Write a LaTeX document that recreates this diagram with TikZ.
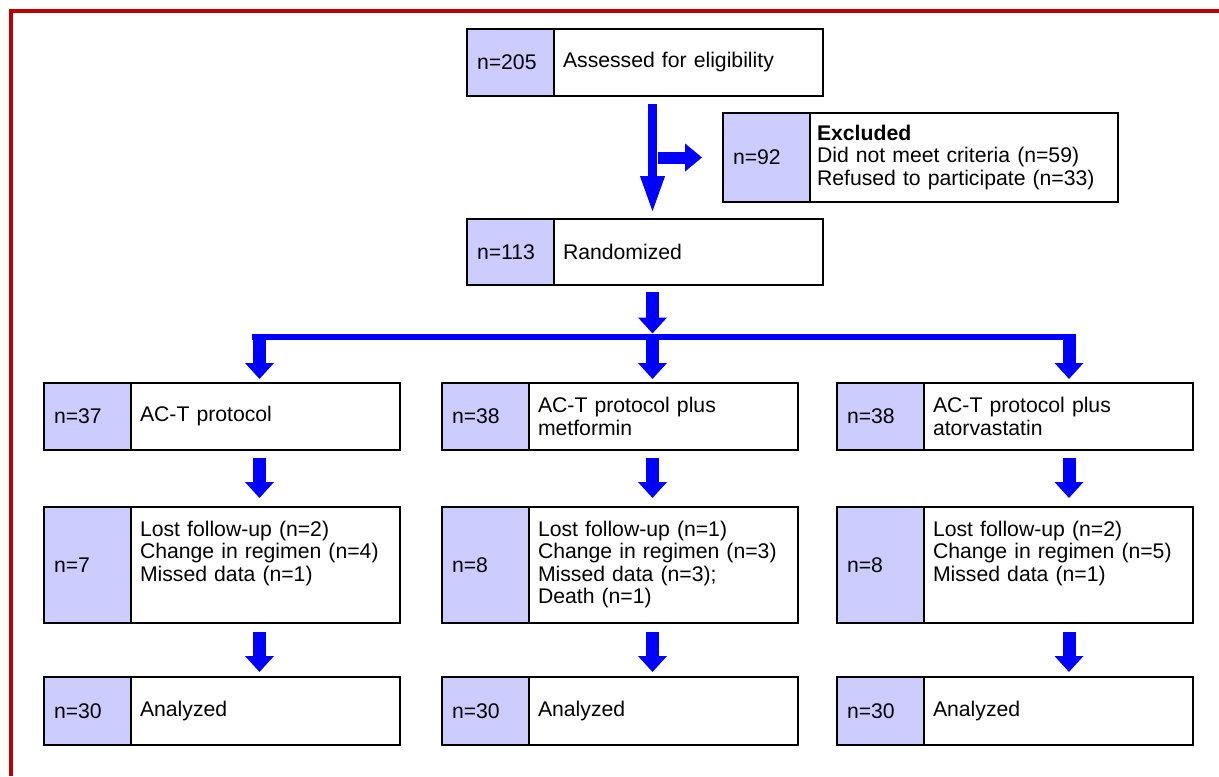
\documentclass[tikz,border=0pt]{standalone}
\usepackage{fontspec}
\setmainfont{Liberation Sans}
\usetikzlibrary{positioning,arrows.meta}

\definecolor{countfill}{RGB}{204,204,255}
\definecolor{framered}{RGB}{192,0,0}

\begin{document}
\begin{tikzpicture}[x=0.5pt, y=-0.5pt,
    font=\fontsize{10.6}{11.25}\selectfont,
    countbox/.style={draw, line width=1pt, fill=countfill, outer sep=0pt,
      inner xsep=5pt, text width=33.5pt, align=left, minimum height=#1,
      anchor=north west},
    textbox/.style={draw, line width=1pt, fill=white, outer sep=0pt,
      inner xsep=4.5pt, text width=125.5pt, align=left, minimum height=#1},
    downarrow/.style={draw=blue, line width=6.5pt, -{Triangle[length=8pt,width=14pt]}},
    mainarrow/.style={draw=blue, line width=4.5pt, -{Triangle[length=19pt,width=11pt]}},
    sidearrow/.style={draw=blue, line width=6pt, -{Triangle[length=8.5pt,width=13.5pt]}}
  ]
    \useasboundingbox (0,0) rectangle (1219,776);

    % Frame
    \draw[framered, line width=2pt] (10.5,776) -- (10.5,10.5) -- (1219,10.5);

    % Enrollment
    \node[countbox=33.5pt] (assN) at (467,29) {n=205};
    \node[textbox=33.5pt, right=0pt of assN] (assT) {Assessed for eligibility};

    \node[countbox=44.5pt] (excN) at (723,113) {n=92};
    \node[textbox=44.5pt, right=0pt of excN, inner xsep=3.5pt, text width=147pt] (excT)
      {\textbf{Excluded}\\Did not meet criteria (n=59)\\Refused to participate (n=33)};

    \node[countbox=33pt] (randN) at (467,219) {n=113};
    \node[textbox=33pt, right=0pt of randN] (randT) {Randomized};

    % Allocation
    \node[countbox=33.5pt] (armN1) at (44,383) {n=37};
    \node[textbox=33.5pt, right=0pt of armN1] (armT1) {AC-T protocol};

    \node[countbox=33.5pt] (armN2) at (442,383) {n=38};
    \node[textbox=33.5pt, right=0pt of armN2] (armT2) {AC-T protocol plus\\metformin};

    \node[countbox=33.5pt] (armN3) at (837,383) {n=38};
    \node[textbox=33.5pt, right=0pt of armN3] (armT3) {AC-T protocol plus\\atorvastatin};

    % Follow-up
    \node[countbox=58pt] (lostN1) at (44,507) {n=7};
    \node[textbox=58pt, right=0pt of lostN1] (lostT1)
      {\parbox[c][44pt][t]{125.5pt}{Lost follow-up (n=2)\\Change in regimen (n=4)\\Missed data (n=1)}};

    \node[countbox=58pt] (lostN2) at (442,507) {n=8};
    \node[textbox=58pt, right=0pt of lostN2] (lostT2)
      {\parbox[c][44pt][t]{125.5pt}{Lost follow-up (n=1)\\Change in regimen (n=3)\\Missed data (n=3);\\Death (n=1)}};

    \node[countbox=58pt] (lostN3) at (837,507) {n=8};
    \node[textbox=58pt, right=0pt of lostN3] (lostT3)
      {\parbox[c][44pt][t]{125.5pt}{Lost follow-up (n=2)\\Change in regimen (n=5)\\Missed data (n=1)}};

    % Analysis
    \node[countbox=34pt] (anaN1) at (44,677) {n=30};
    \node[textbox=34pt, right=0pt of anaN1] (anaT1) {Analyzed};

    \node[countbox=34pt] (anaN2) at (442,677) {n=30};
    \node[textbox=34pt, right=0pt of anaN2] (anaT2) {Analyzed};

    \node[countbox=34pt] (anaN3) at (837,677) {n=30};
    \node[textbox=34pt, right=0pt of anaN3] (anaT3) {Analyzed};

    % Arrow columns and split bar
    \coordinate (colL) at (259.5,0);
    \coordinate (colM) at (652.5,0);
    \coordinate (colR) at (1069,0);
    \coordinate (barL) at (252,336.5);
    \coordinate (barR) at (1076,336.5);

    \draw[mainarrow] ([yshift=-4pt]assN.south -| colM) -- ([yshift=2.5pt]randN.north -| colM);
    \draw[sidearrow] ([xshift=2.5pt]excN.west -| colM) -- ([xshift=-10.5pt]excN.west);

    \draw[downarrow] ([yshift=-3.5pt]randN.south -| colM) -- ([yshift=1.5pt]barL -| colM);
    \draw[blue, line width=3pt] (barL) -- (barR);

    \draw[downarrow] (barL -| colL) -- ([yshift=2pt]armN1.north -| colL);
    \draw[downarrow] (barL -| colM) -- ([yshift=2pt]armN2.north -| colM);
    \draw[downarrow] (barL -| colR) -- ([yshift=2pt]armN3.north -| colR);

    \draw[downarrow] ([yshift=-4pt]armN1.south -| colL) -- ([yshift=4.5pt]lostN1.north -| colL);
    \draw[downarrow] ([yshift=-4pt]armN2.south -| colM) -- ([yshift=4.5pt]lostN2.north -| colM);
    \draw[downarrow] ([yshift=-4pt]armN3.south -| colR) -- ([yshift=4.5pt]lostN3.north -| colR);

    \draw[downarrow] ([yshift=-4.5pt]lostN1.south -| colL) -- ([yshift=2.5pt]anaN1.north -| colL);
    \draw[downarrow] ([yshift=-4.5pt]lostN2.south -| colM) -- ([yshift=2.5pt]anaN2.north -| colM);
    \draw[downarrow] ([yshift=-4.5pt]lostN3.south -| colR) -- ([yshift=2.5pt]anaN3.north -| colR);
\end{tikzpicture}
\end{document}
